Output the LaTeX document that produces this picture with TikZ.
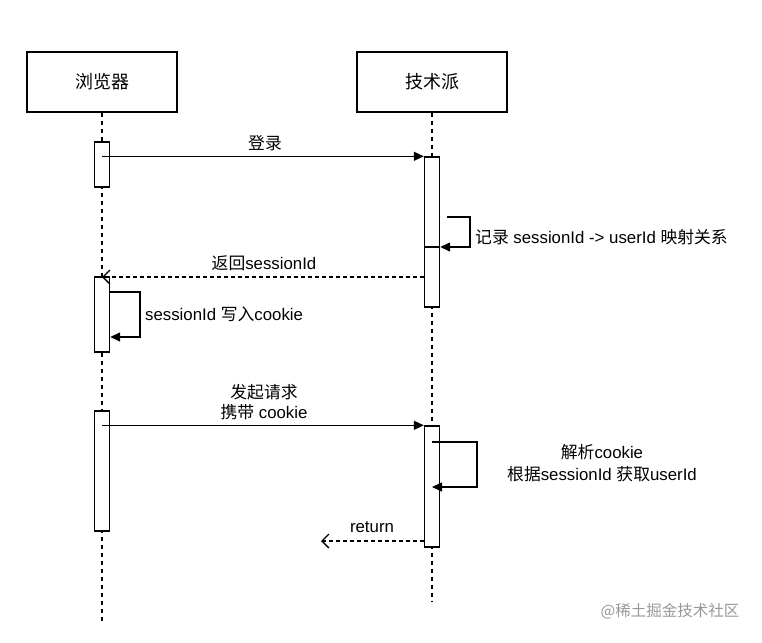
\documentclass[tikz,border=0pt]{standalone}
\usepackage{fontspec}
\setmainfont{Liberation Sans}
\newfontfamily\cjk{Noto Sans CJK SC}
\usetikzlibrary{arrows.meta}
\tikzset{
  actor/.style={draw, line width=1.4pt, fill=white, minimum width=150, minimum height=60, inner sep=0pt, font=\fontsize{18}{22}\selectfont},
  act/.style={draw, line width=1.4pt, fill=white, minimum width=15, inner sep=0pt},
  life/.style={line width=1.3pt, dash pattern=on 4pt off 4pt},
  msg/.style={line width=1.4pt, -{Triangle[length=10pt,width=9pt]}},
  ret/.style={line width=1.3pt, dash pattern=on 4pt off 3pt, -{Straight Barb[length=7pt,width=14pt,line width=1.3pt]}},
  lbl/.style={inner sep=0pt, font=\fontsize{16.8}{20}\selectfont},
}
\begin{document}
\begin{tikzpicture}[x=1pt,y=-1pt]
\useasboundingbox (0,0) rectangle (762,642);
\fill[white] (0,0) rectangle (762,642);
% actors
\node[actor] (br) at (102,82) {\cjk 浏览器};
\node[actor] (sv) at (432,82) {\cjk 技术派};
\coordinate (brEnd) at (102,621);
\coordinate (svEnd) at (432,602);
\draw[life] (br.south) -- (brEnd);
\draw[life] (sv.south) -- (svEnd);
% activations
\node[act, minimum height=45] (ba1) at (102,164.5) {};
\node[act, minimum height=150] (sa1) at (432,232) {};
\node[act, minimum height=75] (ba2) at (102,314.5) {};
\node[act, minimum height=120] (ba3) at (102,471) {};
\node[act, minimum height=121] (sa2) at (432,486.5) {};
% login
\draw[msg] (ba1.center |- sa1.north) -- (sa1.north west);
\node[lbl] (l1) at (265,143) {\cjk 登录};
% self call 1
\coordinate (c1a) at (447,217);
\coordinate (c1b) at (470,217);
\coordinate (c1c) at (470,247);
\draw[msg] (c1a) -- (c1b) -- (c1c) -- (sa1.east |- c1c);
\draw[line width=1.4pt] (sa1.west |- c1c) -- (sa1.east |- c1c);
\node[lbl, anchor=west] (l2) at (475,237) {{\cjk 记录} sessionId -> userId {\cjk 映射关系}};
% return sessionId
\coordinate (r1) at (0,277);
\draw[ret] (sa1.west |- r1) -- (br.south |- r1);
\node[lbl] (l3) at (264,263) {{\cjk 返回}sessionId};
% self call 2
\coordinate (c2a) at (140,292);
\coordinate (c2b) at (140,337);
\draw[msg] (ba2.east |- c2a) -- (c2a) -- (c2b) -- (ba2.east |- c2b);
\node[lbl, anchor=west] (l4) at (145,314) {sessionId {\cjk 写入}cookie};
% request
\draw[msg] (ba3.center |- sa2.north) -- (sa2.north west);
\node[lbl] (l5) at (264,392) {\cjk 发起请求};
\node[lbl] (l6) at (264,412) {{\cjk 携带} cookie};
% self call 3
\coordinate (c3a) at (477,442);
\coordinate (c3b) at (477,487);
\draw[msg] (sa2.center |- c3a) -- (c3a) -- (c3b) -- (sa2.center |- c3b);
\node[lbl] (l7) at (602,452) {{\cjk 解析}cookie};
\node[lbl] (l8) at (602,474) {{\cjk 根据}sessionId {\cjk 获取}userId};
% return
\coordinate (r2) at (321,541);
\draw[ret] (sa2.west |- r2) -- (r2);
\node[lbl] (l9) at (372,527) {return};
% watermark
\node[inner sep=0pt, text=black!40, font=\fontsize{15.5}{18}\selectfont] (wm) at (670,611) {{\cjk @稀土掘金技术社区}};
\end{tikzpicture}
\end{document}
